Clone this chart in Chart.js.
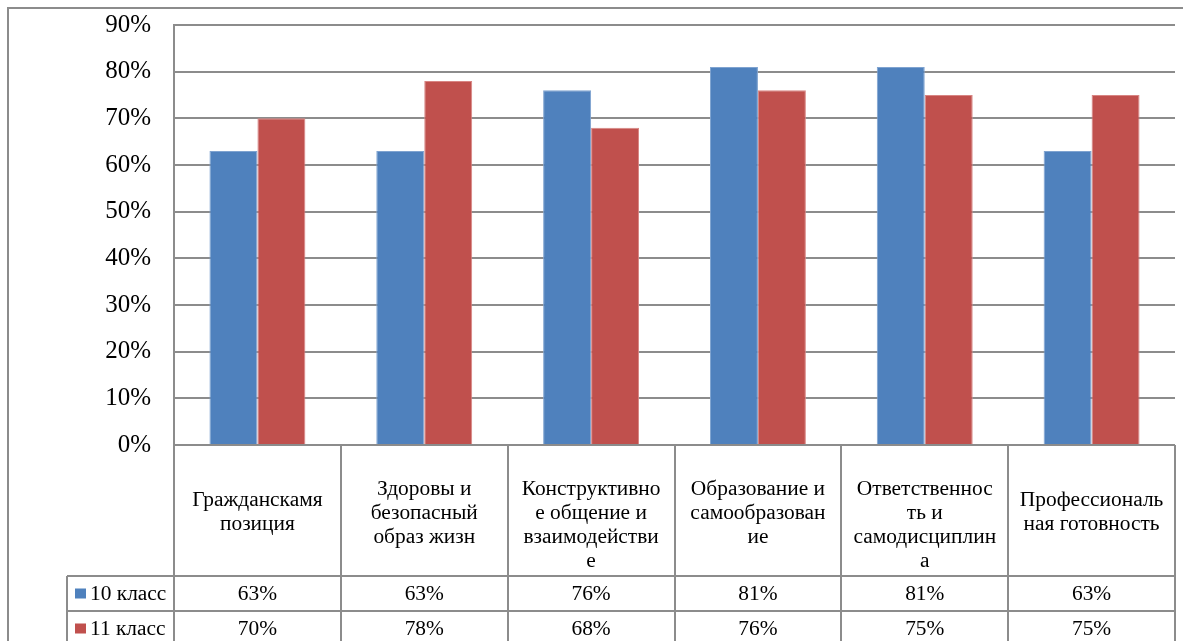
<!DOCTYPE html>
<html>
<head>
<meta charset="utf-8">
<script src="https://cdn.jsdelivr.net/npm/chart.js@4.4.1/dist/chart.umd.min.js"></script>
<style>
  html, body { margin: 0; padding: 0; background: #fff; }
  #wrap { width: 1183px; height: 641px; }
</style>
</head>
<body>
<div id="wrap"><canvas id="x-chart" width="1183" height="641"></canvas></div>
<script>
var categories = [
  ["Гражданскамя", "позиция"],
  ["Здоровы и", "безопасный", "образ жизн"],
  ["Конструктивно", "е общение и", "взаимодействи", "е"],
  ["Образование и", "самообразован", "ие"],
  ["Ответственнос", "ть и", "самодисциплин", "а"],
  ["Профессиональ", "ная готовность"]
];
var seriesNames = ["10 класс", "11 класс"];
var grade10 = [63, 63, 76, 81, 81, 63];
var grade11 = [70, 78, 68, 76, 75, 75];
var yTicks = [0, 10, 20, 30, 40, 50, 60, 70, 80, 90];
var colors = ["#4f81bd", "#c0504d"];

var lineColor = "#8c8c8c";
var serif = "'Liberation Serif', 'DejaVu Serif', serif";

// draws text a bit wider, the source font is broader than Times
function wideText(ctx, txt, x, y, align) {
  var sx = 1.07;
  ctx.save();
  ctx.translate(x, y);
  ctx.scale(sx, 1);
  ctx.textAlign = align;
  ctx.fillText(txt, 0, 0);
  ctx.restore();
}

// data table under the plot, Excel style
var tablePlugin = {
  id: "dataTable",
  afterDraw: function (chart) {
    var ctx = chart.ctx;
    var x = chart.scales.x;
    var area = chart.chartArea;
    var n = categories.length;
    var colW = (area.right - area.left) / n;
    var headBottom = area.bottom + 131;
    var rowH = 35;
    var legendLeft = 67;

    ctx.save();
    ctx.strokeStyle = lineColor;
    ctx.lineWidth = 2;

    // outer frame
    ctx.beginPath();
    ctx.moveTo(8, chart.height);
    ctx.lineTo(8, 8);
    ctx.lineTo(chart.width, 8);
    ctx.stroke();

    // vertical lines of the table
    ctx.beginPath();
    for (var i = 0; i <= n; i++) {
      var lx = Math.round(area.left + i * colW);
      ctx.moveTo(lx, area.bottom);
      ctx.lineTo(lx, chart.height);
    }
    ctx.moveTo(legendLeft, headBottom);
    ctx.lineTo(legendLeft, chart.height);
    // horizontal lines
    for (var r = 0; r < 2; r++) {
      var ly = headBottom + r * rowH;
      ctx.moveTo(legendLeft, ly);
      ctx.lineTo(area.right, ly);
    }
    ctx.stroke();

    ctx.fillStyle = "#000";
    ctx.textBaseline = "middle";
    ctx.font = "20px " + serif;

    // header cells
    var midY = (area.bottom + headBottom) / 2 + 2;
    var lh = 24;
    for (var c = 0; c < n; c++) {
      var cx = x.getPixelForValue(c);
      var lines = categories[c];
      var y0 = Math.max(midY - (lines.length - 1) * lh / 2, 490);
      for (var k = 0; k < lines.length; k++) {
        wideText(ctx, lines[k], cx, y0 + k * lh, "center");
      }
    }

    // value rows with legend keys
    var rows = [grade10, grade11];
    for (var s = 0; s < rows.length; s++) {
      var ry = headBottom + s * rowH + rowH / 2 + 1;
      ctx.fillStyle = colors[s];
      ctx.fillRect(legendLeft + 8, ry - 6, 11, 10);
      ctx.fillStyle = "#000";
      wideText(ctx, seriesNames[s], legendLeft + 23, ry, "left");
      for (var j = 0; j < n; j++) {
        wideText(ctx, rows[s][j] + "%", x.getPixelForValue(j), ry, "center");
      }
    }
    ctx.restore();
  }
};

new Chart(document.getElementById("x-chart"), {
  type: "bar",
  data: {
    labels: categories,
    datasets: [{
      label: seriesNames[0],
      data: grade10,
      backgroundColor: colors[0],
      borderColor: "#7fa3d0",
      borderWidth: 1,
      categoryPercentage: 0.575,
      barPercentage: 1
    }, {
      label: seriesNames[1],
      data: grade11,
      backgroundColor: colors[1],
      borderColor: "#d88583",
      borderWidth: 1,
      categoryPercentage: 0.575,
      barPercentage: 1
    }]
  },
  options: {
    responsive: false,
    animation: false,
    layout: { padding: { left: 0, top: 25, right: 8, bottom: 196 } },
    plugins: {
      legend: { display: false },
      tooltip: { enabled: false }
    },
    scales: {
      x: { display: false },
      y: {
        min: 0,
        max: 90,
        afterFit: function (scale) {
          scale.width = 174;
          scale.paddingTop = 0;
          scale.paddingBottom = 0;
        },
        afterBuildTicks: function (scale) {
          scale.ticks = yTicks.map(function (v) { return { value: v }; });
        },
        ticks: {
          padding: 23,
          color: "#000",
          font: { family: serif, size: 25 },
          callback: function (v) { return v + "%"; }
        },
        grid: { color: lineColor, lineWidth: 2, drawTicks: false },
        border: { color: lineColor, width: 2 }
      }
    }
  },
  plugins: [tablePlugin]
});
</script>
</body>
</html>
